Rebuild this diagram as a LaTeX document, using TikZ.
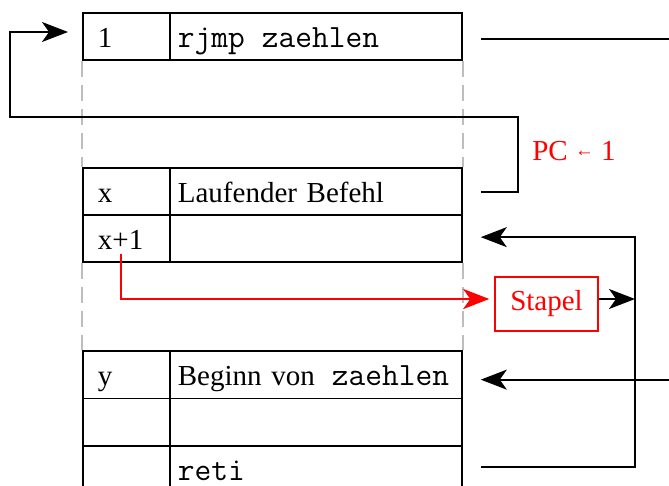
\documentclass[tikz,border=0pt]{standalone}
\usepackage{fontspec}
\setmainfont{Liberation Serif}
\usetikzlibrary{arrows.meta}
\definecolor{guidegray}{RGB}{190,190,190}
% assembler code in a serifed typewriter face
\newcommand\progtext[1]{{\fontsize{32.5}{34}\selectfont\ttfamily #1}}
\newcommand\progspace{\hspace*{0.525em}}
\begin{document}
\begin{tikzpicture}[x=1pt,y=-1pt,
  every node/.style={font=\fontsize{29}{34}\selectfont},
  cell/.style={draw, line width=1.8pt, rectangle, anchor=north west,
    inner ysep=0pt, text height=34.5pt, text depth=13pt, align=left},
  numcell/.style={cell, inner xsep=15pt, text width=57pt},
  opcell/.style={cell, inner xsep=8pt, text width=276pt},
  lastrow/.style={text depth=7.5pt},
  conn/.style={line width=1.8pt},
  tip/.style={-{Stealth[length=26pt,width=20pt,inset=7pt]}},
  guide/.style={guidegray, line width=1.5pt, dash pattern=on 16pt off 8pt},
  stackbox/.style={draw=red, text=red, line width=1.5pt, minimum width=103pt,
    minimum height=54pt, inner sep=0pt}
]
\useasboundingbox (0,0) rectangle (669,486);

% program memory: jump instruction at address 1
\node[numcell] (a1) at (82,12) {1};
\node[opcell]  (jmp) at (169,12) {\progtext{rjmp\progspace zaehlen}};

% running instruction and its successor
\node[numcell] (ax)  at (82,167) {x};
\node[opcell]  (lauf) at (169,167) {Laufender Befehl};
\node[numcell] (ax1) at (82,214) {x+1};
\node[opcell]  (next) at (169,214) {};

% interrupt routine (continues below the lower edge)
\node[numcell] (ay)  at (82,350) {y};
\node[opcell]  (beg) at (169,350) {Beginn von\progtext{\progspace zaehlen}};
\node[numcell] (ae)  at (82,397.5) {};
\node[opcell]  (mid) at (169,397.5) {};
\node[numcell, lastrow] (ar)  at (82,445) {};
\node[opcell, lastrow]  (reti) at (169,445) {\progtext{reti}};

% omitted memory between the blocks
\draw[guide] (a1.south west) -- (ax.north west);
\draw[guide] (jmp.south east) -- (lauf.north east);
\draw[guide] (ax1.south west) -- (ay.north west);
\draw[guide] (next.south east) -- (beg.north east);

% stack
\node[stackbox] (stapel) at (546.5,304) {Stapel};
\node[text=red, anchor=base] (pc) at (574,161)
  {PC \raisebox{4pt}{\scalebox{0.65}{←}} 1};

% helper coordinates
\coordinate (rimR) at (669,0);
\coordinate (retx) at (635,0);
\coordinate (loopR) at (518,117);
\coordinate (loopL) at (10,117);
\coordinate (jmpin) at (68,32);
\coordinate (plusfoot) at (121,254);

% jump taken: PC <- 1
\draw[conn, tip] ([xshift=18pt]lauf.east) -| (loopR) -- (loopL) |- (jmpin);
\draw[conn] ([xshift=18pt,yshift=-2pt]jmp.east) -- ([yshift=-2pt]jmp.east -| rimR);

% return address pushed to the stack
\draw[red, line width=2.8pt, tip, shorten >=5pt] (plusfoot) |- ([yshift=5pt]stapel.west);
\draw[conn, tip] ([yshift=5pt]stapel.east) -- ([yshift=5pt]stapel.east -| retx);

% return from the routine
\draw[conn, tip] ([xshift=18pt]reti.east) -- (reti.east -| retx)
  -- ([yshift=1.5pt]next.east -| retx) -- ([xshift=18pt,yshift=1.5pt]next.east);

% entry into the routine
\draw[conn, tip] ([yshift=-5pt]beg.east -| rimR) -- ([xshift=18pt,yshift=-5pt]beg.east);
\end{tikzpicture}
\end{document}
